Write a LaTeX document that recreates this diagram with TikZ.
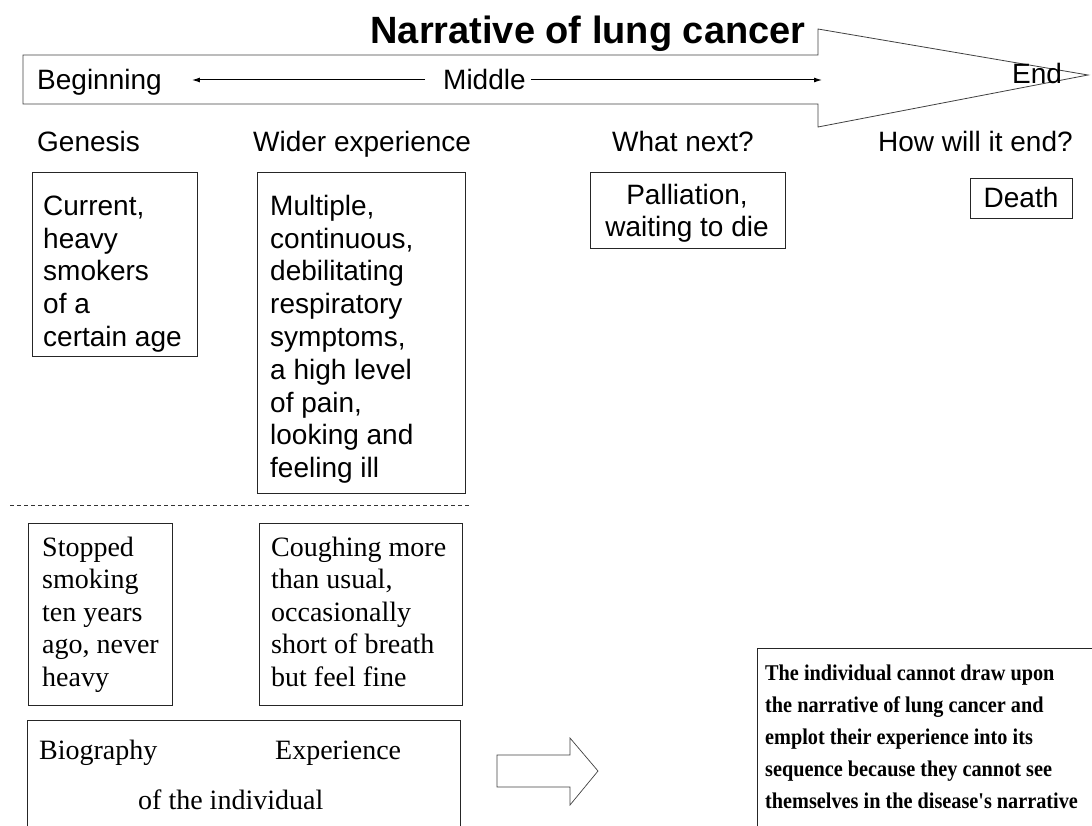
\documentclass[tikz,border=0pt]{standalone}
\usepackage{fontspec}
\setmainfont{Liberation Serif}
\newfontfamily\sansface{Liberation Sans}
\newfontfamily\serifface{Liberation Serif}
\newfontfamily\narrowserif{Liberation Serif}[FakeStretch=0.9]
\usetikzlibrary{arrows.meta}

% fonts used by the labels
\newcommand\sanstext{\sansface\fontsize{28}{32.8}\selectfont}
\newcommand\seriftext{\serifface\fontsize{28}{32.5}\selectfont}
\newcommand\boldtext{\narrowserif\bfseries\fontsize{22.5}{32}\selectfont}
\newcommand\firststrut{\rule{0pt}{22pt}}
\newcommand\firststrutb{\rule{0pt}{17pt}}

\begin{document}
\begin{tikzpicture}[x=1pt,y=-1pt,
  frame/.style={draw=black!85, line width=1pt, inner sep=0pt},
  outline/.style={draw=black!75, line width=0.8pt, line join=miter},
  label/.style={inner sep=0pt, font=\sanstext},
  sanslines/.style={inner sep=0pt, font=\sanstext, align=left, anchor=north west},
  seriflines/.style={inner sep=0pt, font=\seriftext, align=left, anchor=north west},
  thinarrow/.style={draw=black, line width=1pt, -{Latex[length=8pt,width=5pt]}}
]
\useasboundingbox (0,0) rectangle (1092,826);
\clip (0,0) rectangle (1092,826);

% the big arrow of the narrative
\coordinate (bodyNW) at (23,55);
\coordinate (bodySW) at (23,104);
\draw[outline] (bodyNW) -- (818,55) -- (818,29) -- (1088,75)
  -- (818,127) -- (818,104) -- (bodySW) -- cycle;

\node[inner sep=0pt, anchor=base, font=\sansface\bfseries\fontsize{38}{40}\selectfont]
  (title) at (588,44) {Narrative of lung cancer};

\node[label, anchor=base west] (beg) at (37,90) {Beginning};
\node[label, anchor=base west] (mid) at (443,90) {Middle};
\node[label, anchor=base west] (end) at (1012,84) {End};
\coordinate (midtip) at (822,80);
\draw[thinarrow, shorten <=18pt, shorten >=30pt] (mid.west |- midtip) -- (beg.east |- midtip);
\draw[thinarrow, shorten <=5pt] (mid.east |- midtip) -- (midtip);

% column headings
\node[label, anchor=base west] (genesis) at (37,152) {Genesis};
\node[label, anchor=base west] (wider) at (253,152) {Wider experience};
\node[label, anchor=base west] (whatnext) at (612,152) {What next?};
\node[label, anchor=base west] (howend) at (878,152) {How will it end?};

% the narrative's stages
\node[frame, anchor=north west, minimum width=165, minimum height=184] (gbox) at (32,172) {};
\node[sanslines] (gtext) at (43,193) {\firststrut Current,\\heavy\\smokers\\of a\\certain age};

\node[frame, anchor=north west, minimum width=208, minimum height=321] (wbox) at (257,172) {};
\node[sanslines] (wtext) at (270,193) {\firststrut Multiple,\\continuous,\\debilitating\\respiratory\\symptoms,\\a high level\\of pain,\\looking and\\feeling ill};

\node[frame, anchor=north west, minimum width=195, minimum height=76] (pbox) at (590,172) {};
\node[inner sep=0pt, font=\sanstext, align=center, anchor=north] (ptext) at (687,182)
  {\firststrut Palliation,\\waiting to die};

\node[frame, anchor=north west, minimum width=102, minimum height=40] (dbox) at (970,178) {};
\node[label, anchor=base] (dtext) at (1021,208) {Death};

% separator between the narrative and the individual
\coordinate (sepL) at (10,505);
\coordinate (sepR) at (470,505);
\draw[black!80, line width=0.8pt, dash pattern=on 4pt off 3pt] (sepL) -- (sepR);

% the individual's account
\node[frame, anchor=north west, minimum width=144, minimum height=182] (sbox) at (28,523) {};
\node[seriflines] (stext) at (42,534) {\firststrut Stopped\\smoking\\ten years\\ago, never\\heavy};

\node[frame, anchor=north west, minimum width=203, minimum height=182] (cbox) at (259,523) {};
\node[seriflines] (ctext) at (271,534) {\firststrut Coughing more\\than usual,\\occasionally\\short of breath\\but feel fine};

\node[frame, anchor=north west, minimum width=433, minimum height=140] (bbox) at (27,720) {};
\node[inner sep=0pt, font=\seriftext, anchor=base west] (biog) at (39,759) {Biography};
\node[inner sep=0pt, font=\seriftext, anchor=base west] (expe) at (275,759) {Experience};
\node[inner sep=0pt, font=\seriftext, anchor=base west] (indiv) at (138,809) {of the individual};

% block arrow towards the conclusion
\draw[outline, line width=0.7pt] (497,755) -- (570,755) -- (570,738) -- (598,771)
  -- (570,805) -- (570,787) -- (497,787) -- cycle;

\node[frame, anchor=north west, minimum width=360, minimum height=220] (concl) at (757,648) {};
\node[inner sep=0pt, font=\boldtext, align=left, anchor=north west] (ctxt) at (765,663)
  {\firststrutb The individual cannot draw upon\\the narrative of lung cancer and\\emplot their experience into its\\sequence because they cannot see\\themselves in the disease's narrative};
\end{tikzpicture}
\end{document}
